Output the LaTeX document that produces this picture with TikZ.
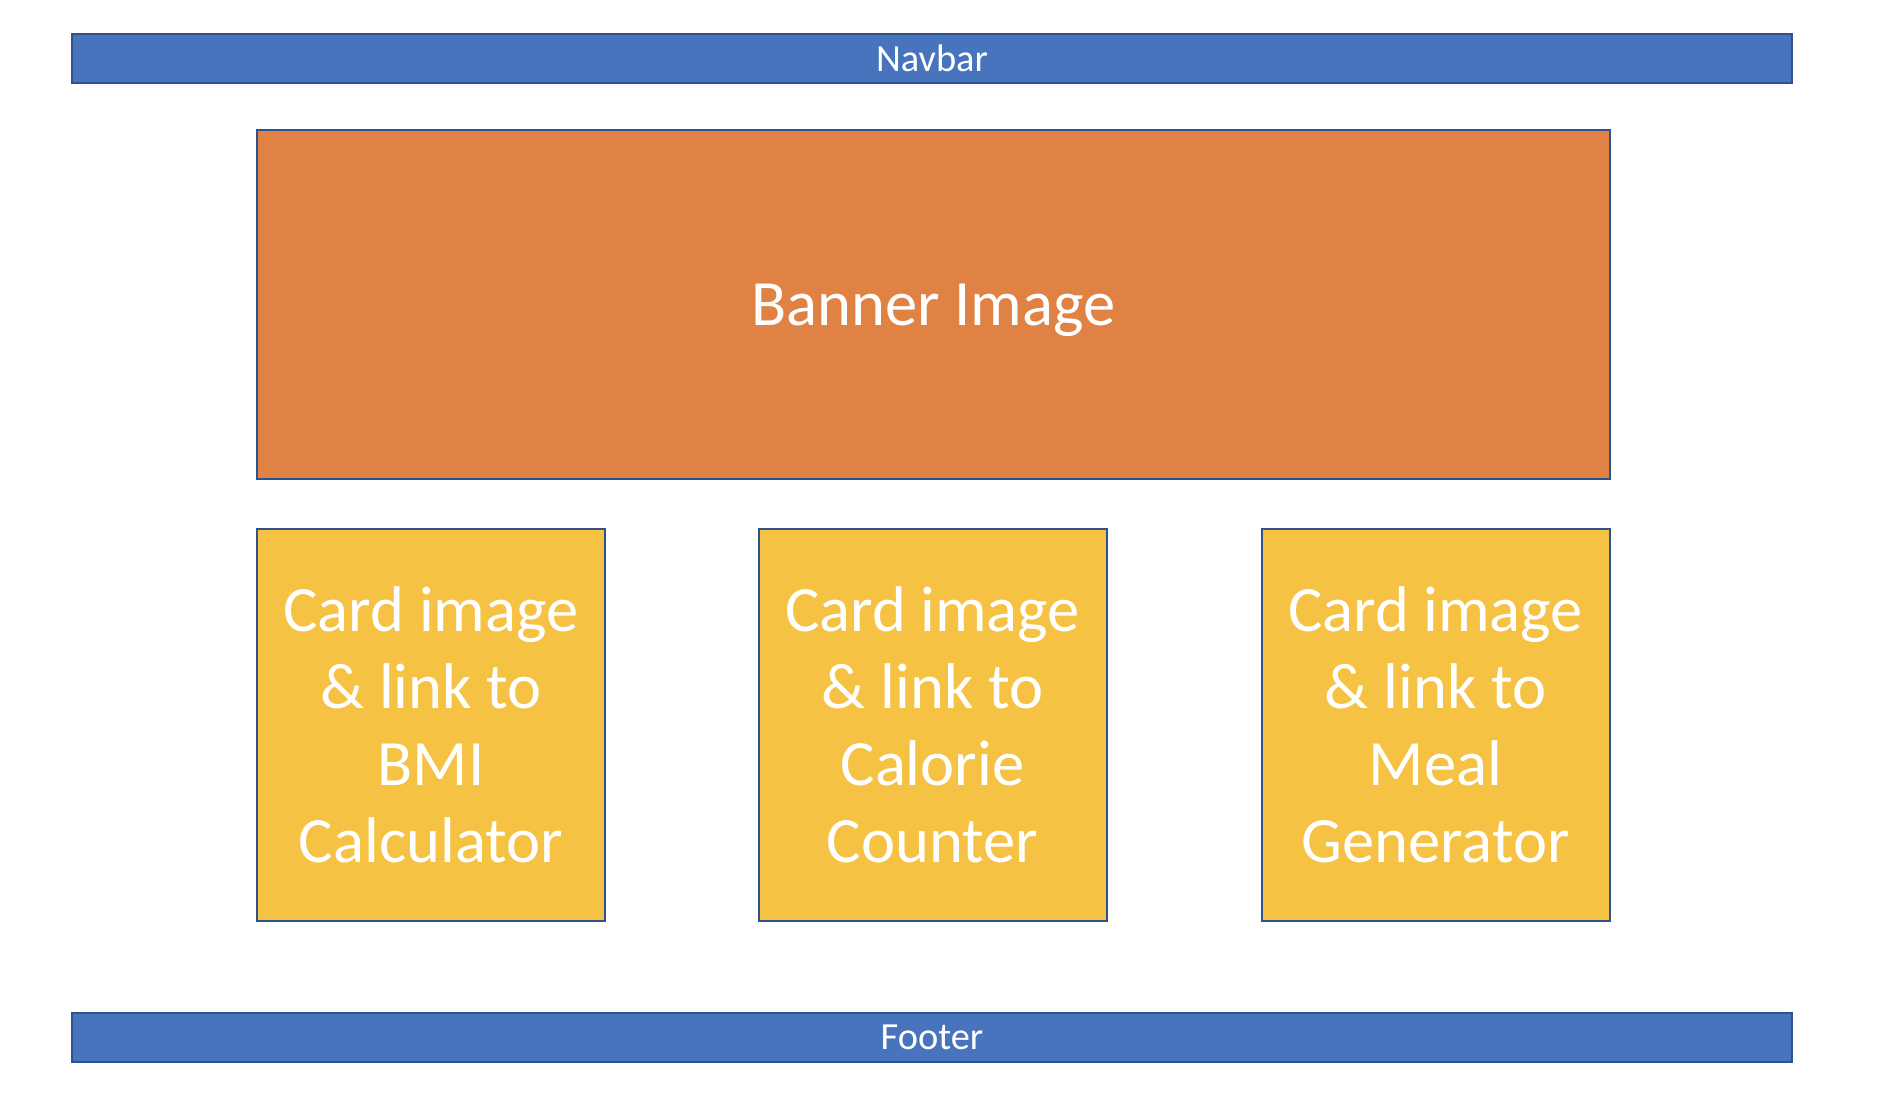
\documentclass[tikz,border=0pt]{standalone}
\usepackage{fontspec}
\setmainfont{Carlito}
\usepackage{tikz}
\usetikzlibrary{positioning}
\definecolor{barblue}{HTML}{4874BD}
\definecolor{edgeblue}{HTML}{2F528F}
\definecolor{bannerorange}{HTML}{E08244}
\definecolor{cardgold}{HTML}{F6C244}
\begin{document}
\begin{tikzpicture}[x=0.5pt,y=-0.5pt]
  % some styles
  \tikzset{
    bar/.style={
      rectangle,
      minimum width=860pt,
      minimum height=24.5pt,
      inner sep=0mm,
      outer sep=0mm,
      fill=barblue,
      draw=edgeblue,
      line width=1pt,
      text=white,
      font=\fontsize{19.2}{23}\selectfont
    }
  }
  \tikzset{
    banner/.style={
      rectangle,
      minimum width=676.5pt,
      minimum height=174.5pt,
      inner sep=0mm,
      outer sep=0mm,
      fill=bannerorange,
      draw=edgeblue,
      line width=1pt,
      text=white,
      text depth=0pt,
      font=\fontsize{32.3}{38.5}\selectfont
    }
  }
  \tikzset{card/.style={rectangle,minimum width=174pt,minimum height=196pt,inner sep=0mm,outer sep=0mm,fill=cardgold,draw=edgeblue,line width=1pt,text=white,align=center,font=\fontsize{32.3}{38.5}\selectfont}}

\useasboundingbox (0,0) rectangle (1890,1106);

\node[bar] (navbar) at (932,58.5) {Navbar};
\node[banner] (banner) at (933.5,304.5) {Banner Image};

\foreach \x/\n/\t in {431/bmi/BMI\\Calculator,932.5/calorie/Calorie\\Counter,1435.5/meal/Meal\\Generator} {
   \node[card] (\n) at (\x,725) {Card image\\\& link to\\\t};
}

\node[bar] (footer) at (932,1037) {Footer};

\end{tikzpicture}
\end{document}
